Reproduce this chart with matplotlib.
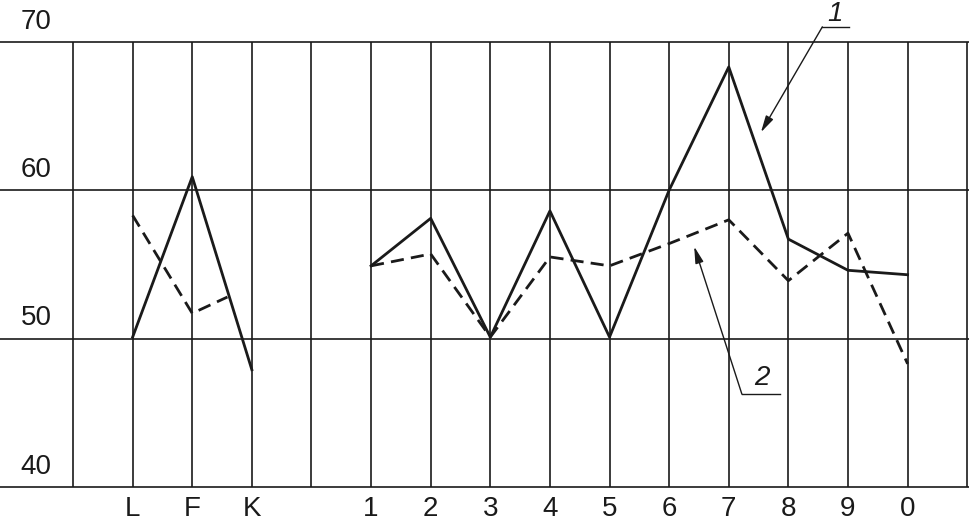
import matplotlib
matplotlib.use('Agg')
import matplotlib.pyplot as plt

# categories along x (blank slot between K and 1)
categories = ['L', 'F', 'K', '', '1', '2', '3', '4', '5', '6', '7', '8', '9', '0']
y_ticks = [40, 50, 60, 70]

# curve 1 (solid)
curve1_left_x = [1, 2, 3]
curve1_left = [50.1, 60.9, 47.9]
curve1_right_x = [5, 6, 7, 8, 9, 10, 11, 12, 13, 14]
curve1_right = [54.9, 58.1, 50.1, 58.6, 50.1, 60.0, 68.3, 56.7, 54.6, 54.3]

# curve 2 (dashed), left part stops where it meets curve 1
curve2_left_x = [1, 2, 2.59]
curve2_left = [58.3, 51.7, 52.8]
curve2_right_x = [5, 6, 7, 8, 9, 10, 11, 12, 13, 14]
curve2_right = [54.9, 55.7, 50.1, 55.5, 54.9, 56.4, 58.0, 53.9, 57.1, 48.3]

ink = '#1a1a1a'

fig = plt.figure(figsize=(9.69, 5.21), dpi=100)
ax = fig.add_axes([0, 0, 1, 1])
ax.set_xlim(-1.225, 15.03)
ax.set_ylim(37.71, 72.81)
ax.axis('off')

# grid
for yv in y_ticks:
    ax.axhline(yv, color=ink, lw=1.2, zorder=1)
ax.vlines(range(0, 16), 40, 70, color=ink, lw=1.2, zorder=1)

# y labels sit above their grid lines
for yv in y_ticks:
    ax.annotate(str(yv), xy=(-0.62, yv), xytext=(0, 14.5), textcoords='offset points',
                ha='center', va='center', fontsize=20, color=ink,
                family='Liberation Sans')

# x labels below the base line
for i, lab in enumerate(categories):
    ax.annotate(lab, xy=(i + 1, 40), xytext=(0, -15.5), textcoords='offset points',
                ha='center', va='center', fontsize=20, color=ink,
                family='Liberation Sans')

# curves
dash = (0, (4.7, 2.6))
ax.plot(curve1_left_x, curve1_left, color=ink, lw=2.0, zorder=3)
ax.plot(curve1_right_x, curve1_right, color=ink, lw=2.0, zorder=3)
ax.plot(curve2_left_x, curve2_left, color=ink, lw=2.0, ls=dash, zorder=3)
ax.plot(curve2_right_x, curve2_right, color=ink, lw=2.0, ls=dash, zorder=3)

# leaders with numbers
arrow = dict(arrowstyle='-|>,head_length=1.0,head_width=0.25', color=ink, lw=1.0,
             shrinkA=0, shrinkB=0)
ax.annotate('', xy=(11.54, 63.9), xytext=(12.57, 71.0), arrowprops=arrow, zorder=4)
ax.plot([12.57, 13.02], [71.0, 71.0], color=ink, lw=1.0)
ax.text(12.79, 71.85, '1', ha='center', va='center', fontsize=20, style='italic',
        color=ink, family='Liberation Sans')

ax.annotate('', xy=(10.42, 56.2), xytext=(11.22, 46.26), arrowprops=arrow, zorder=4)
ax.plot([11.22, 11.86], [46.26, 46.26], color=ink, lw=1.0)
ax.text(11.56, 47.35, '2', ha='center', va='center', fontsize=20, style='italic',
        color=ink, family='Liberation Sans')

fig.savefig('out.png', dpi=100)
